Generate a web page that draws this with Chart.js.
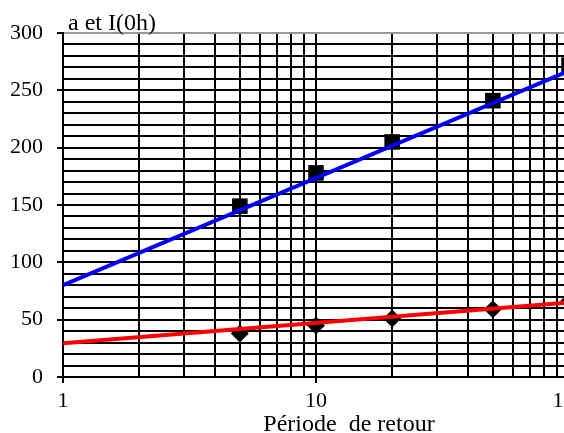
<!DOCTYPE html>
<html>
<head>
<meta charset="utf-8">
<script src="https://cdn.jsdelivr.net/npm/chart.js@4"></script>
<style>
  html, body { margin: 0; padding: 0; overflow: hidden; background: #fff; }
</style>
</head>
<body>
<canvas id="myChart" width="600" height="433"></canvas>
<script>
// valeurs
const periods = [5, 10, 20, 50, 100];
const aValues = [149, 178, 205, 241, 272];
const i0hValues = [38, 45, 51, 59, 66];

// droites d'ajustement (extrémités)
const fitPeriods = [1, 100];
const aFit = [80, 267];
const i0hFit = [29.5, 65];

const xGridVals = [1, 2, 3, 4, 5, 6, 7, 8, 9, 10, 20, 30, 40, 50, 60, 70, 80, 90, 100];
const xLabelVals = [1, 10, 100];
const yLabelVals = [0, 50, 100, 150, 200, 250, 300];

const font = 'Liberation Serif';

const titles = {
  id: 'titles',
  afterDraw(chart) {
    const c = chart.ctx;
    c.save();
    c.fillStyle = '#000';
    c.font = '24px "' + font + '"';
    c.textBaseline = 'alphabetic';
    c.textAlign = 'left';
    c.fillText('a et I(0h)', 68, 30);
    c.textAlign = 'center';
    c.fillText('Période  de retour', 349, 431);
    c.restore();
  }
};

let ctx = document.getElementById('myChart').getContext('2d');
let myChart = new Chart(ctx, {
  type: 'scatter',
  data: {
    datasets: [
      {
        type: 'line',
        data: fitPeriods.map((p, i) => ({x: p, y: aFit[i]})),
        borderColor: '#0000ff',
        borderWidth: 4,
        pointRadius: 0,
        order: 0
      },
      {
        type: 'line',
        data: fitPeriods.map((p, i) => ({x: p, y: i0hFit[i]})),
        borderColor: '#ff0000',
        borderWidth: 4,
        pointRadius: 0,
        order: 0
      },
      {
        data: periods.map((p, i) => ({x: p, y: aValues[i]})),
        pointStyle: 'rect',
        pointRadius: 11,
        backgroundColor: '#000',
        borderColor: '#000',
        borderWidth: 0,
        order: 1
      },
      {
        data: periods.map((p, i) => ({x: p, y: i0hValues[i]})),
        pointStyle: 'rectRot',
        pointRadius: 9,
        backgroundColor: '#000',
        borderColor: '#000',
        borderWidth: 0,
        order: 1
      }
    ]
  },
  options: {
    responsive: false,
    animation: false,
    layout: { padding: { top: 33, right: 31, bottom: 0, left: 0 } },
    plugins: {
      legend: { display: false },
      tooltip: { enabled: false }
    },
    scales: {
      x: {
        type: 'logarithmic',
        min: 1,
        max: 100,
        afterBuildTicks: s => { s.ticks = xGridVals.map(v => ({value: v})); },
        afterFit: s => { s.height = 56; },
        border: { color: '#000', width: 2 },
        grid: {
          color: '#000',
          lineWidth: 2,
          tickLength: 6,
          tickWidth: 2,
          tickColor: c => xLabelVals.includes(c.tick && c.tick.value) ? '#000' : 'rgba(0,0,0,0)'
        },
        ticks: {
          autoSkip: false,
          maxRotation: 0,
          padding: 5,
          color: '#000',
          font: { family: font, size: 22 },
          callback: v => xLabelVals.includes(v) ? String(v) : ''
        }
      },
      y: {
        min: 0,
        max: 300,
        afterFit: s => { s.width = 63; },
        border: { color: '#000', width: 2 },
        grid: {
          color: c => (c.tick && c.tick.value === 300) ? '#999' : '#000',
          lineWidth: 2,
          tickLength: 6,
          tickWidth: 2,
          tickColor: c => yLabelVals.includes(c.tick && c.tick.value) ? '#000' : 'rgba(0,0,0,0)'
        },
        ticks: {
          stepSize: 10,
          autoSkip: false,
          padding: 14,
          color: '#000',
          font: { family: font, size: 22 },
          callback: v => yLabelVals.includes(v) ? String(v) : ''
        }
      }
    }
  },
  plugins: [titles]
});
</script>
</body>
</html>
